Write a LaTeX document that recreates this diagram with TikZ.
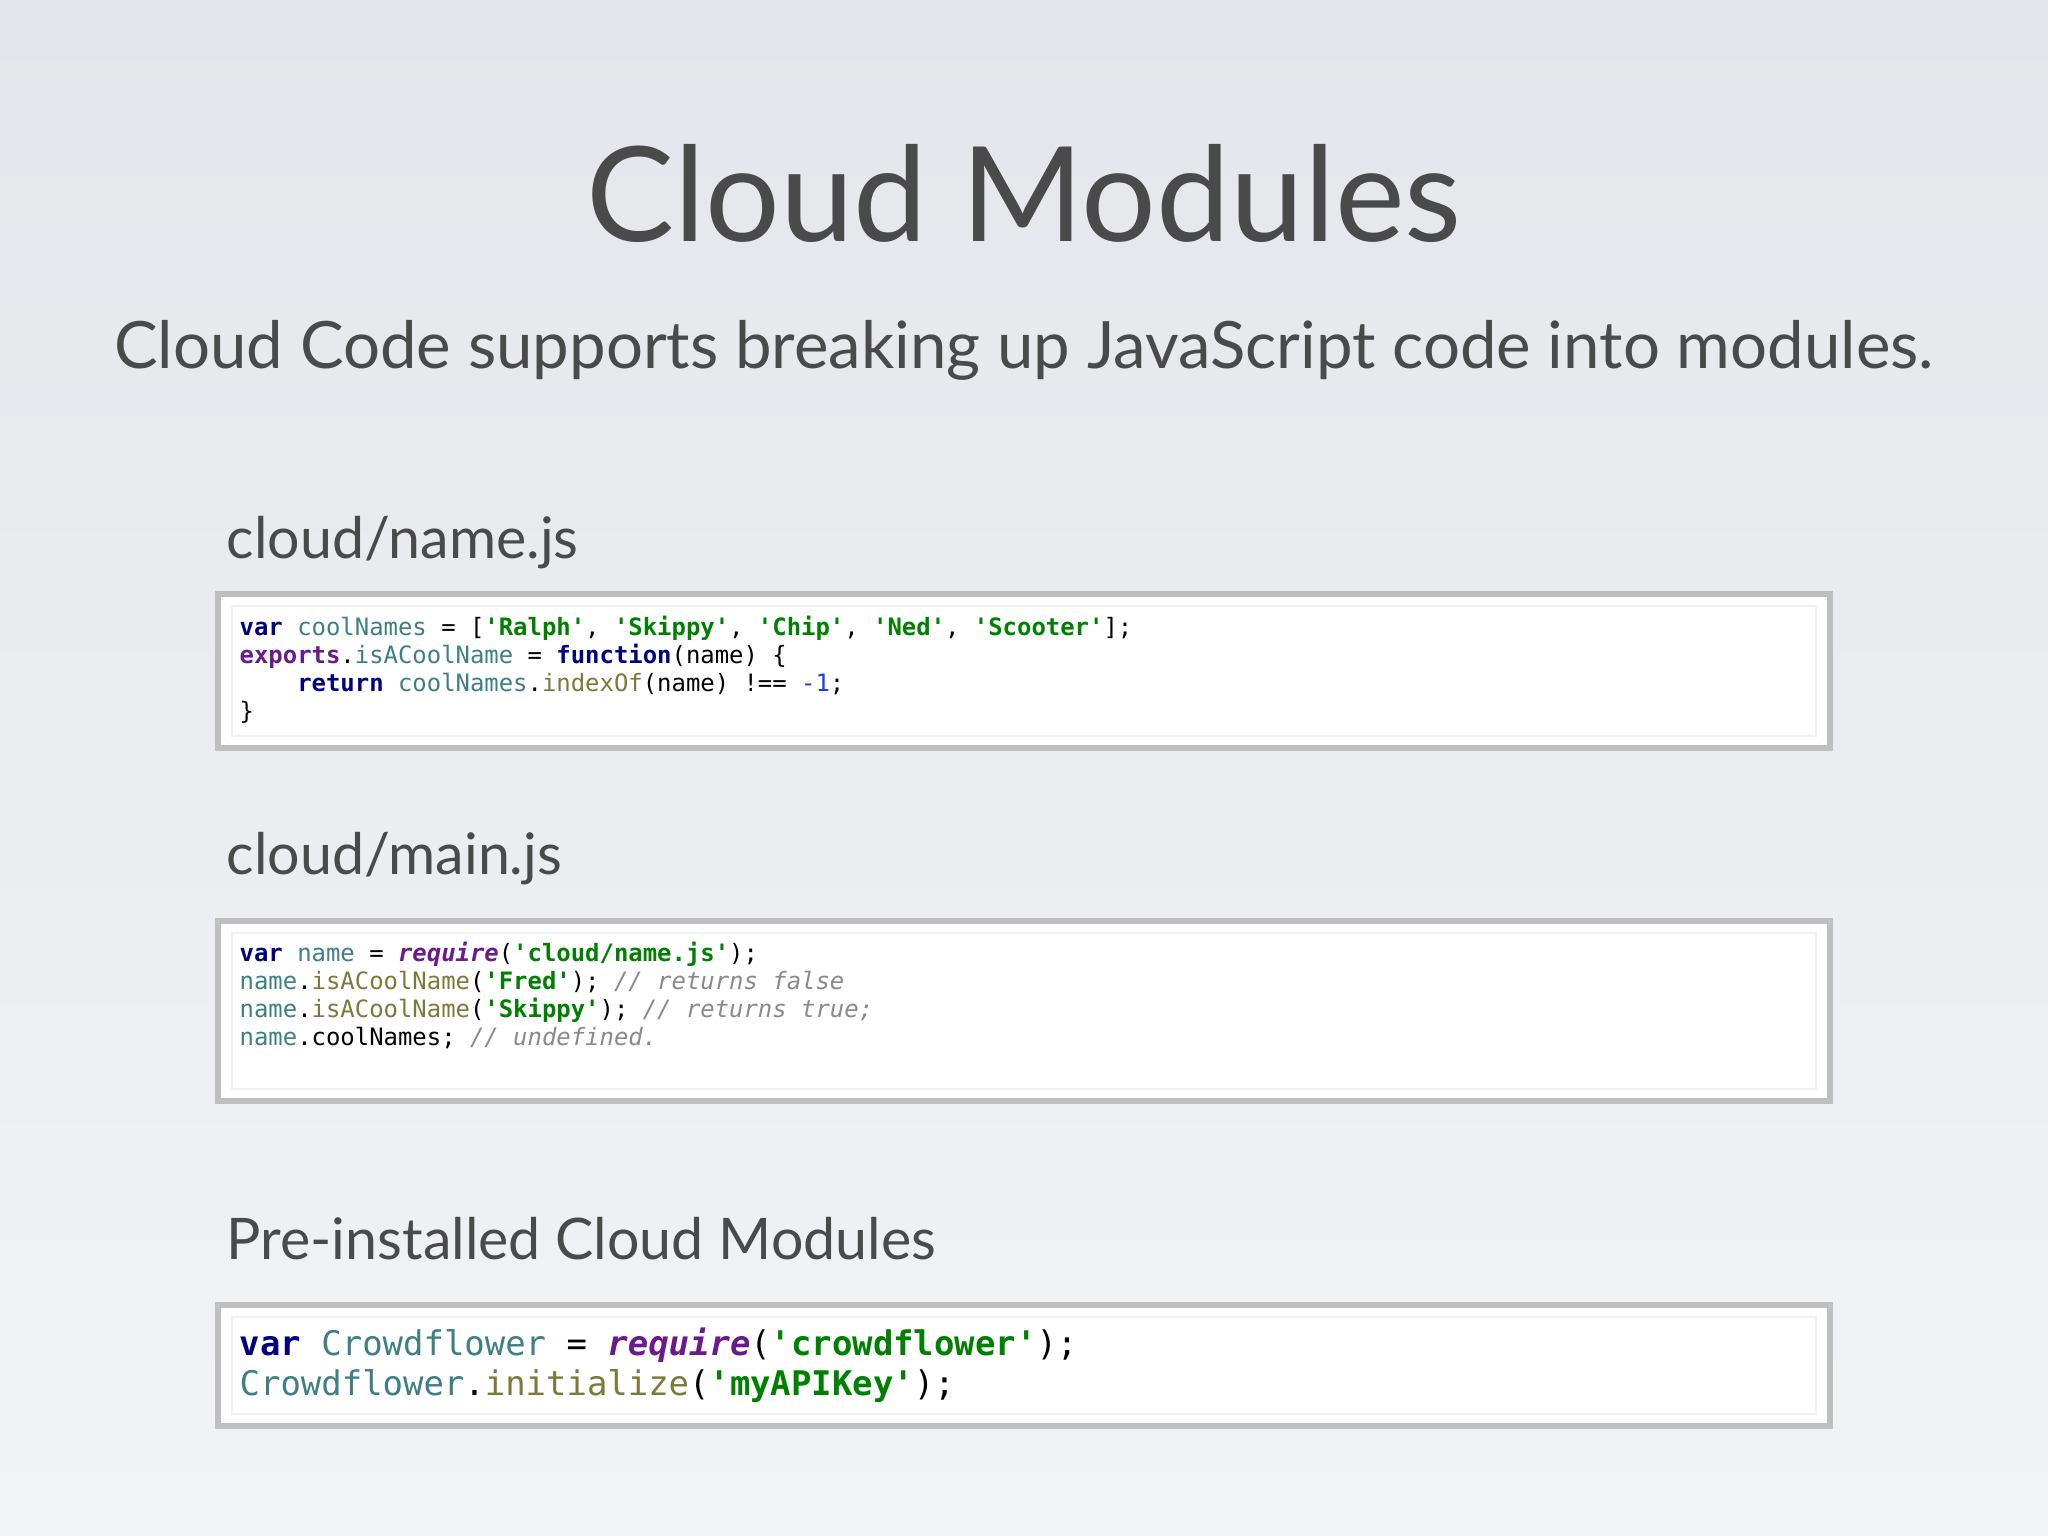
\documentclass[tikz,border=0pt]{standalone}
\usepackage{fontspec}
\setmainfont{Lato}
\setmonofont{DejaVu Sans Mono}
\definecolor{bgtop}{HTML}{E4E6EB}
\definecolor{bgbot}{HTML}{F2F3F5}
\definecolor{titlec}{HTML}{4A4A4A}
\definecolor{kwc}{HTML}{000080}
\definecolor{idc}{HTML}{3E7F86}
\definecolor{stc}{HTML}{008000}
\definecolor{fnc}{HTML}{7A7A3A}
\definecolor{cmc}{HTML}{8A8A8A}
\definecolor{rqc}{HTML}{6A1A8A}
\definecolor{numc}{HTML}{1C3FE0}
\newcommand\cKw[1]{\textcolor{kwc}{\bfseries #1}}
\newcommand\cId[1]{\textcolor{idc}{#1}}
\newcommand\cSt[1]{\textcolor{stc}{\bfseries #1}}
\newcommand\cFn[1]{\textcolor{fnc}{#1}}
\newcommand\cCm[1]{\textcolor{cmc}{\itshape #1}}
\newcommand\cRq[1]{\textcolor{rqc}{\bfseries\itshape #1}}
\tikzset{
 codebox/.style={draw=black!25,line width=1.6pt,fill=white},
 inner/.style={draw=black!5,line width=0.8pt},
 heading/.style={anchor=base west,inner sep=0,text=titlec,font=\fontsize{16.3}{19}\selectfont},
 codeline/.style={anchor=base west,inner sep=0,font=\ttfamily\fontsize{6.8}{8}\selectfont},
 bigline/.style={anchor=base west,inner sep=0,font=\ttfamily\fontsize{9.65}{11}\selectfont},
}
\begin{document}
\begin{tikzpicture}[x=0.01cm,y=-0.01cm]
\shade[top color=bgtop,bottom color=bgbot] (0,0) rectangle (2048,1536);
\useasboundingbox (0,0) rectangle (2048,1536);
\node[text=titlec,font=\fontsize{37.5}{44}\selectfont] (title) at (1024,193) {Cloud Modules};
\node[text=titlec,inner sep=0] (sub) at (1024,350) {\resizebox{18.18cm}{!}{Cloud Code supports breaking up JavaScript code into modules.}};
% box 1
\node[heading] (h1) at (226,558) {cloud/name.js};
\draw[codebox] (218,594) rectangle (1830,748);
\draw[inner] (232,606) rectangle (1816,736);
\node[codeline] (a1) at (239,635) {\cKw{var} \cId{coolNames} = [\cSt{'Ralph'}, \cSt{'Skippy'}, \cSt{'Chip'}, \cSt{'Ned'}, \cSt{'Scooter'}];};
\node[codeline] (a2) at (239,663) {\textcolor{rqc}{\bfseries exports}.\cId{isACoolName} = \cKw{function}(name) \{};
\node[codeline] (a3) at (239,691) {\phantom{xxxx}\cKw{return} \cId{coolNames}.\cFn{indexOf}(name) !== \textcolor{numc}{-1};};
\node[codeline] (a4) at (239,719) {\}};
% box 2
\node[heading] (h2) at (226,874) {cloud/main.js};
\draw[codebox] (218,921) rectangle (1830,1101);
\draw[inner] (232,933) rectangle (1816,1089);
\node[codeline] (b1) at (239,961) {\cKw{var} \cId{name} = \cRq{require}(\cSt{'cloud/name.js'});};
\node[codeline] (b2) at (239,989) {\cId{name}.\cFn{isACoolName}(\cSt{'Fred'}); \cCm{// returns false}};
\node[codeline] (b3) at (239,1017) {\cId{name}.\cFn{isACoolName}(\cSt{'Skippy'}); \cCm{// returns true;}};
\node[codeline] (b4) at (239,1045) {\cId{name}.coolNames; \cCm{// undefined.}};
% box 3
\node[heading] (h3) at (226,1259) {Pre-installed Cloud Modules};
\draw[codebox] (218,1305) rectangle (1830,1426);
\draw[inner] (232,1317) rectangle (1816,1414);
\node[bigline] (c1) at (239,1355) {\cKw{var} \cId{Crowdflower} = \cRq{require}(\cSt{'crowdflower'});};
\node[bigline] (c2) at (239,1395) {\cId{Crowdflower}.\cFn{initialize}(\cSt{'myAPIKey'});};
\end{tikzpicture}
\end{document}
